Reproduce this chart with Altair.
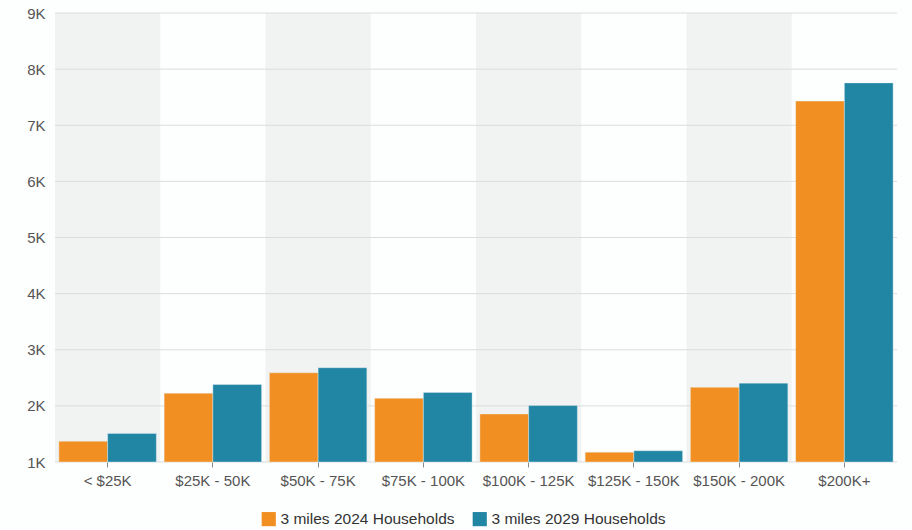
import altair as alt
import pandas as pd

# Household income brackets and household counts within 3 miles
categories = ["< $25K", "$25K - 50K", "$50K - 75K", "$75K - 100K",
              "$100K - 125K", "$125K - 150K", "$150K - 200K", "$200K+"]
hh_2024 = [1370, 2225, 2590, 2135, 1855, 1175, 2330, 7430]
hh_2029 = [1510, 2380, 2680, 2240, 2005, 1200, 2405, 7755]
series = ["3 miles 2024 Households", "3 miles 2029 Households"]
colors = ["#f28f22", "#2185a4"]
y_ticks = [1000, 2000, 3000, 4000, 5000, 6000, 7000, 8000, 9000]

rows = []
for cat, a, b in zip(categories, hh_2024, hh_2029):
    rows.append({"bracket": cat, "series": series[0], "households": a, "base": y_ticks[0]})
    rows.append({"bracket": cat, "series": series[1], "households": b, "base": y_ticks[0]})
bars_df = pd.DataFrame(rows)
bands_df = pd.DataFrame({"bracket": categories[::2]})
grid_df = pd.DataFrame({"v": y_ticks})

W, H = 842, 449
font = "Liberation Sans"
fs = 15

x_scale = alt.Scale(domain=categories, paddingInner=0, paddingOuter=0)
y_scale = alt.Scale(domain=[y_ticks[0], y_ticks[-1]], zero=False, nice=False)

bands = alt.Chart(bands_df).mark_rect(color="#f1f2f2").encode(
    x=alt.X("bracket:N", scale=x_scale, sort=categories,
            axis=alt.Axis(title=None, labelAngle=0, domain=False, ticks=True,
                          tickColor="#8a8a8a", tickSize=5, labelPadding=6,
                          labelFont=font, labelFontSize=fs, labelColor="#555555")),
    y=alt.value(0),
    y2=alt.value(H),
)

grid = alt.Chart(grid_df).mark_rule(color="#dcdcdc", strokeWidth=1).encode(
    y=alt.Y("v:Q", scale=y_scale,
            axis=alt.Axis(title=None, values=y_ticks, grid=False, domain=False,
                          ticks=False, labelPadding=10,
                          labelExpr="datum.value / 1000 + 'K'",
                          labelFont=font, labelFontSize=fs, labelColor="#555555")),
)

bars = alt.Chart(bars_df).mark_bar(stroke="#e8f2f5", strokeWidth=0.4).encode(
    x=alt.X("bracket:N", scale=x_scale, sort=categories),
    xOffset=alt.XOffset("series:N", sort=series,
                        scale=alt.Scale(paddingInner=0, paddingOuter=0.08)),
    y=alt.Y("households:Q", scale=y_scale),
    y2="base:Q",
    color=alt.Color("series:N", sort=series,
                    scale=alt.Scale(domain=series, range=colors),
                    legend=alt.Legend(title=None, orient="none", direction="horizontal",
                                      legendX=206, legendY=498,
                                      symbolType="square", symbolSize=200,
                                      symbolStrokeWidth=0, columnPadding=17,
                                      labelLimit=400,
                                      labelFont=font, labelFontSize=15.5,
                                      labelColor="#333333")),
)

chart = alt.layer(bands, grid, bars).properties(
    width=W, height=H,
    autosize=alt.AutoSizeParams(type="none"),
    padding={"left": 55, "top": 13, "right": 15, "bottom": 68},
    background="#fdfefe",
).configure_view(stroke=None)

chart.save("out.html", embed_options={"renderer": "svg", "actions": False})
